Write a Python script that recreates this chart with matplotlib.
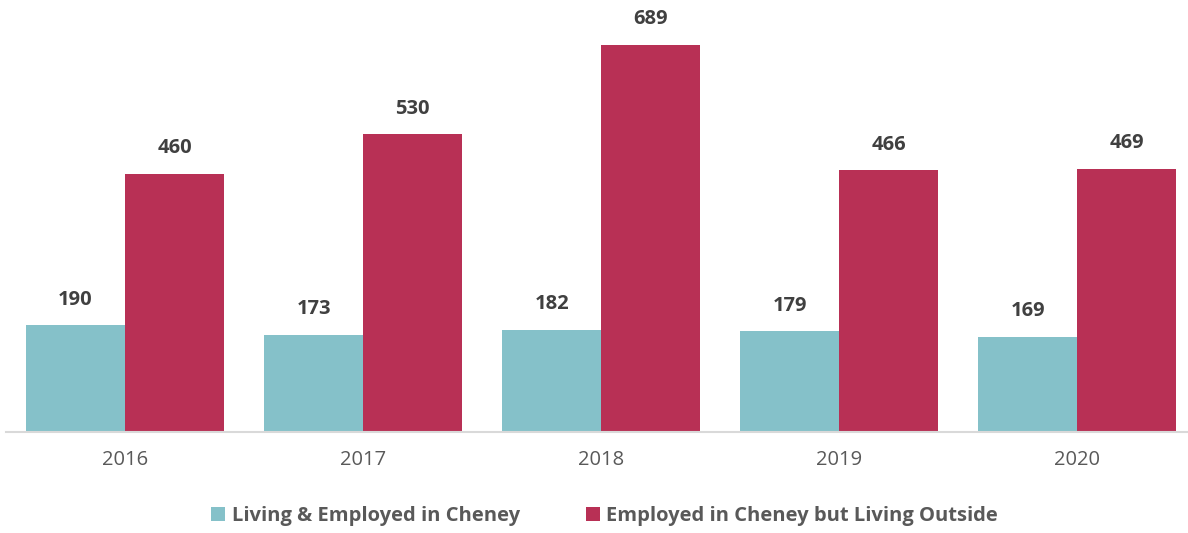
import matplotlib
matplotlib.use("Agg")
import matplotlib.pyplot as plt
import numpy as np

years = ["2016", "2017", "2018", "2019", "2020"]
living_employed = [190, 173, 182, 179, 169]
employed_outside = [460, 530, 689, 466, 469]
series_names = ["Living & Employed in Cheney", "Employed in Cheney but Living Outside"]

teal = "#85C1C9"
crimson = "#B83055"

plt.rcParams["font.family"] = ["Open Sans", "DejaVu Sans"]

fig = plt.figure(figsize=(11.88, 5.33), dpi=100)
ax = fig.add_axes([0.005, 1 - 432 / 533, 1.002, 432 / 533])

x = np.arange(len(years))
w = 0.416
b1 = ax.bar(x - w / 2, living_employed, w, color=teal, label=series_names[0])
b2 = ax.bar(x + w / 2, employed_outside, w, color=crimson, label=series_names[1])

for bars, vals in ((b1, living_employed), (b2, employed_outside)):
    for rect, v in zip(bars, vals):
        ax.annotate(f"{v}", (rect.get_x() + rect.get_width() / 2, v),
                    xytext=(0, 18.5), textcoords="offset points",
                    ha="center", va="center", fontsize=14.5, fontweight="bold",
                    color="#404040")

ax.set_xlim(-0.5, len(years) - 0.5)
ax.set_ylim(0, 769)
ax.set_xticks(x)
ax.set_xticklabels(years, fontsize=14.5, color="#595959")
ax.tick_params(axis="x", length=0, pad=13)
ax.set_yticks([])
for s in ("top", "right", "left"):
    ax.spines[s].set_visible(False)
ax.spines["bottom"].set_color("#D9D9D9")
ax.spines["bottom"].set_linewidth(1.5)

leg = fig.legend(handles=[b1, b2], loc="center", bbox_to_anchor=(0.509, 1 - 516 / 533),
                 ncol=2, frameon=False, handlelength=0.7, handleheight=0.7,
                 handletextpad=0.3, columnspacing=3.3,
                 prop={"size": 14.5, "weight": "bold"})
for t in leg.get_texts():
    t.set_color("#595959")

fig.savefig("out.png", dpi=100)
